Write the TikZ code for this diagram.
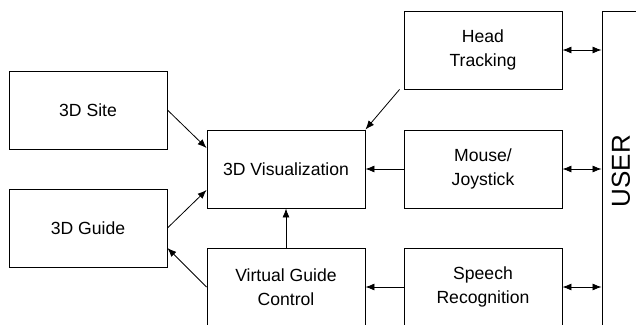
\documentclass[tikz,border=0pt]{standalone}
\usepackage{fontspec}
\setmainfont{Liberation Sans}
\usetikzlibrary{arrows.meta}

\begin{document}
\begin{tikzpicture}[x=1pt,y=-1pt,
    block/.style={draw,rectangle,line width=0.9pt,minimum width=158pt,
        minimum height=78pt,inner sep=0pt,align=center,
        font=\fontsize{17.6}{24.5}\selectfont},
    link/.style={line width=0.8pt,-{Latex[length=9pt,width=7pt]}},
    twoway/.style={line width=0.8pt,{Latex[length=9pt,width=7pt]}-{Latex[length=9pt,width=7pt]}}]
    \useasboundingbox (0,0) rectangle (636,324);
    \clip (0,0) rectangle (636,324);

    \coordinate (sitepos) at (88,110);
    \coordinate (guidepos) at (88,228);
    \coordinate (vispos) at (286,169);
    \coordinate (vgcpos) at (286,287);
    \coordinate (headpos) at (483,50);
    \coordinate (mousepos) at (483,169);
    \coordinate (speechpos) at (483,287);

    \node[block] (site) at (sitepos) {3D Site};
    \node[block] (guide) at (guidepos) {3D Guide};
    \node[block] (vis) at (vispos) {3D Visualization};
    \node[block] (vgc) at (vgcpos) {Virtual Guide\\Control};
    \node[block] (head) at (headpos) {Head\\Tracking};
    \node[block] (mouse) at (mousepos) {Mouse/\\Joystick};
    \node[block] (speech) at (speechpos) {Speech\\Recognition};
    \node[block,minimum width=38pt,minimum height=320pt,
        font=\fontsize{26}{30}\selectfont] (user) at (621,171)
        {\rotatebox{90}{USER}};

    \draw [link] (site.east) -- ([yshift=21pt]vis.west);
    \draw [link] (guide.east) -- ([yshift=-21pt]vis.west);
    \draw [link] (vgc.west) -- ([yshift=-20pt]guide.east);
    \draw [link] (vgc.north) -- (vis.south);
    \draw [link] ([xshift=-4pt]head.south west) -- (vis.north east);
    \draw [link] (mouse.west) -- (vis.east);
    \draw [link] (speech.west) -- (vgc.east);

    \draw [twoway] (head.east) -- (head.east -| user.west);
    \draw [twoway] (mouse.east) -- (mouse.east -| user.west);
    \draw [twoway] (speech.east) -- (speech.east -| user.west);
\end{tikzpicture}
\end{document}
